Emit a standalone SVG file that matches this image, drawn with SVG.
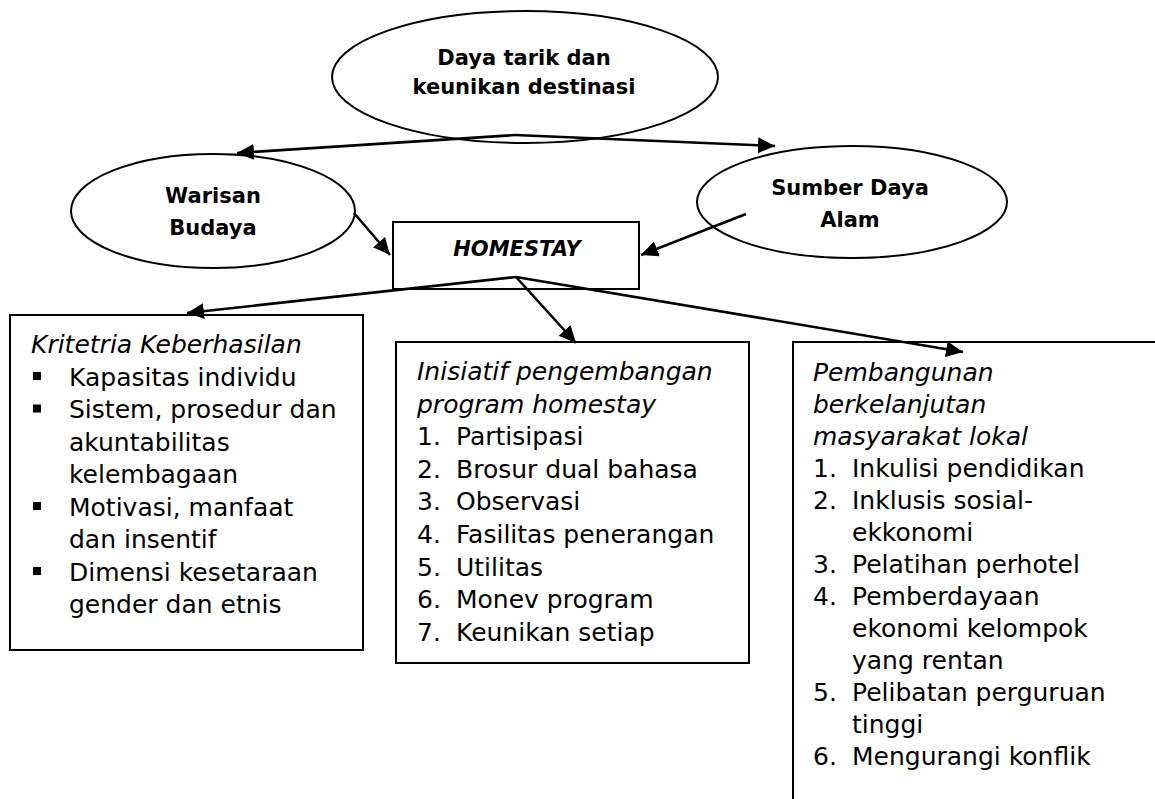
<svg xmlns="http://www.w3.org/2000/svg" width="1155" height="799" viewBox="0 0 1155 799">
<defs>
<marker id="arr" markerUnits="userSpaceOnUse" markerWidth="18" markerHeight="16" refX="17" refY="8" orient="auto">
<path d="M0,0 L17,8 L0,16 z" fill="#000"/>
</marker>
<style>
.sh{fill:none;stroke:#000;stroke-width:2}
.lbl{font-family:"DejaVu Sans",sans-serif;font-size:21px;font-weight:bold;fill:#000;text-anchor:middle}
.t{font-family:"DejaVu Sans",sans-serif;font-size:25px;fill:#000}
.i{font-style:italic}
.con{fill:none;stroke:#000;stroke-width:2.6;marker-end:url(#arr)}
</style>
</defs>
<rect width="1155" height="799" fill="#fff"/>
<g id="daya-tarik">
<ellipse class="sh" cx="525" cy="77" rx="193" ry="66"/>
<text class="lbl" x="524" y="65">Daya tarik dan</text>
<text class="lbl" x="524" y="94">keunikan destinasi</text>
</g>
<g id="warisan-budaya">
<ellipse class="sh" cx="213" cy="211" rx="142" ry="57"/>
<text class="lbl" x="213" y="203">Warisan</text>
<text class="lbl" x="213" y="235">Budaya</text>
</g>
<g id="sumber-daya-alam">
<ellipse class="sh" cx="852" cy="202" rx="155" ry="56"/>
<text class="lbl" x="850" y="195">Sumber Daya</text>
<text class="lbl" x="850" y="227">Alam</text>
</g>
<g id="homestay">
<rect class="sh" x="393" y="222" width="246" height="67"/>
<text class="lbl i" x="517" y="256">HOMESTAY</text>
</g>
<g id="kriteria">
<rect class="sh" x="10" y="315" width="353" height="335"/>
<text class="t i" x="31" y="353">Kritetria Keberhasilan</text>
<rect x="33" y="372" width="8" height="8"/>
<text class="t" x="69" y="385.5">Kapasitas individu</text>
<rect x="33" y="404.5" width="8" height="8"/>
<text class="t" x="69" y="418">Sistem, prosedur dan</text>
<text class="t" x="69" y="450.5">akuntabilitas</text>
<text class="t" x="69" y="483">kelembagaan</text>
<rect x="33" y="502" width="8" height="8"/>
<text class="t" x="69" y="515.5">Motivasi, manfaat</text>
<text class="t" x="69" y="548">dan insentif</text>
<rect x="33" y="567" width="8" height="8"/>
<text class="t" x="69" y="580.5">Dimensi kesetaraan</text>
<text class="t" x="69" y="613">gender dan etnis</text>
</g>
<g id="inisiatif">
<rect class="sh" x="396" y="342" width="353" height="321"/>
<text class="t i" x="417" y="380">Inisiatif pengembangan</text>
<text class="t i" x="417" y="412.6">program homestay</text>
<text class="t" x="417" y="445.2">1.</text><text class="t" x="456" y="445.2">Partisipasi</text>
<text class="t" x="417" y="477.8">2.</text><text class="t" x="456" y="477.8">Brosur dual bahasa</text>
<text class="t" x="417" y="510.4">3.</text><text class="t" x="456" y="510.4">Observasi</text>
<text class="t" x="417" y="543">4.</text><text class="t" x="456" y="543">Fasilitas penerangan</text>
<text class="t" x="417" y="575.6">5.</text><text class="t" x="456" y="575.6">Utilitas</text>
<text class="t" x="417" y="608.2">6.</text><text class="t" x="456" y="608.2">Monev program</text>
<text class="t" x="417" y="640.8">7.</text><text class="t" x="456" y="640.8">Keunikan setiap</text>
</g>
<g id="pembangunan">
<rect class="sh" x="793" y="342" width="420" height="520"/>
<text class="t i" x="813" y="381">Pembangunan</text>
<text class="t i" x="813" y="413">berkelanjutan</text>
<text class="t i" x="813" y="445">masyarakat lokal</text>
<text class="t" x="813" y="477">1.</text><text class="t" x="852" y="477">Inkulisi pendidikan</text>
<text class="t" x="813" y="509">2.</text><text class="t" x="852" y="509">Inklusis sosial-</text>
<text class="t" x="852" y="541">ekkonomi</text>
<text class="t" x="813" y="573">3.</text><text class="t" x="852" y="573">Pelatihan perhotel</text>
<text class="t" x="813" y="605">4.</text><text class="t" x="852" y="605">Pemberdayaan</text>
<text class="t" x="852" y="637">ekonomi kelompok</text>
<text class="t" x="852" y="669">yang rentan</text>
<text class="t" x="813" y="701">5.</text><text class="t" x="852" y="701">Pelibatan perguruan</text>
<text class="t" x="852" y="733">tinggi</text>
<text class="t" x="813" y="765">6.</text><text class="t" x="852" y="765">Mengurangi konflik</text>
</g>
<g id="connectors">
<line class="con" x1="515" y1="135" x2="237" y2="153"/>
<line class="con" x1="515" y1="135" x2="775" y2="146"/>
<line class="con" x1="354" y1="213" x2="390" y2="255"/>
<line class="con" x1="746" y1="214" x2="641" y2="255"/>
<line class="con" x1="516" y1="277" x2="187" y2="313"/>
<line class="con" x1="516" y1="277" x2="576" y2="343"/>
<line class="con" x1="516" y1="277" x2="963" y2="352"/>
</g>
</svg>
